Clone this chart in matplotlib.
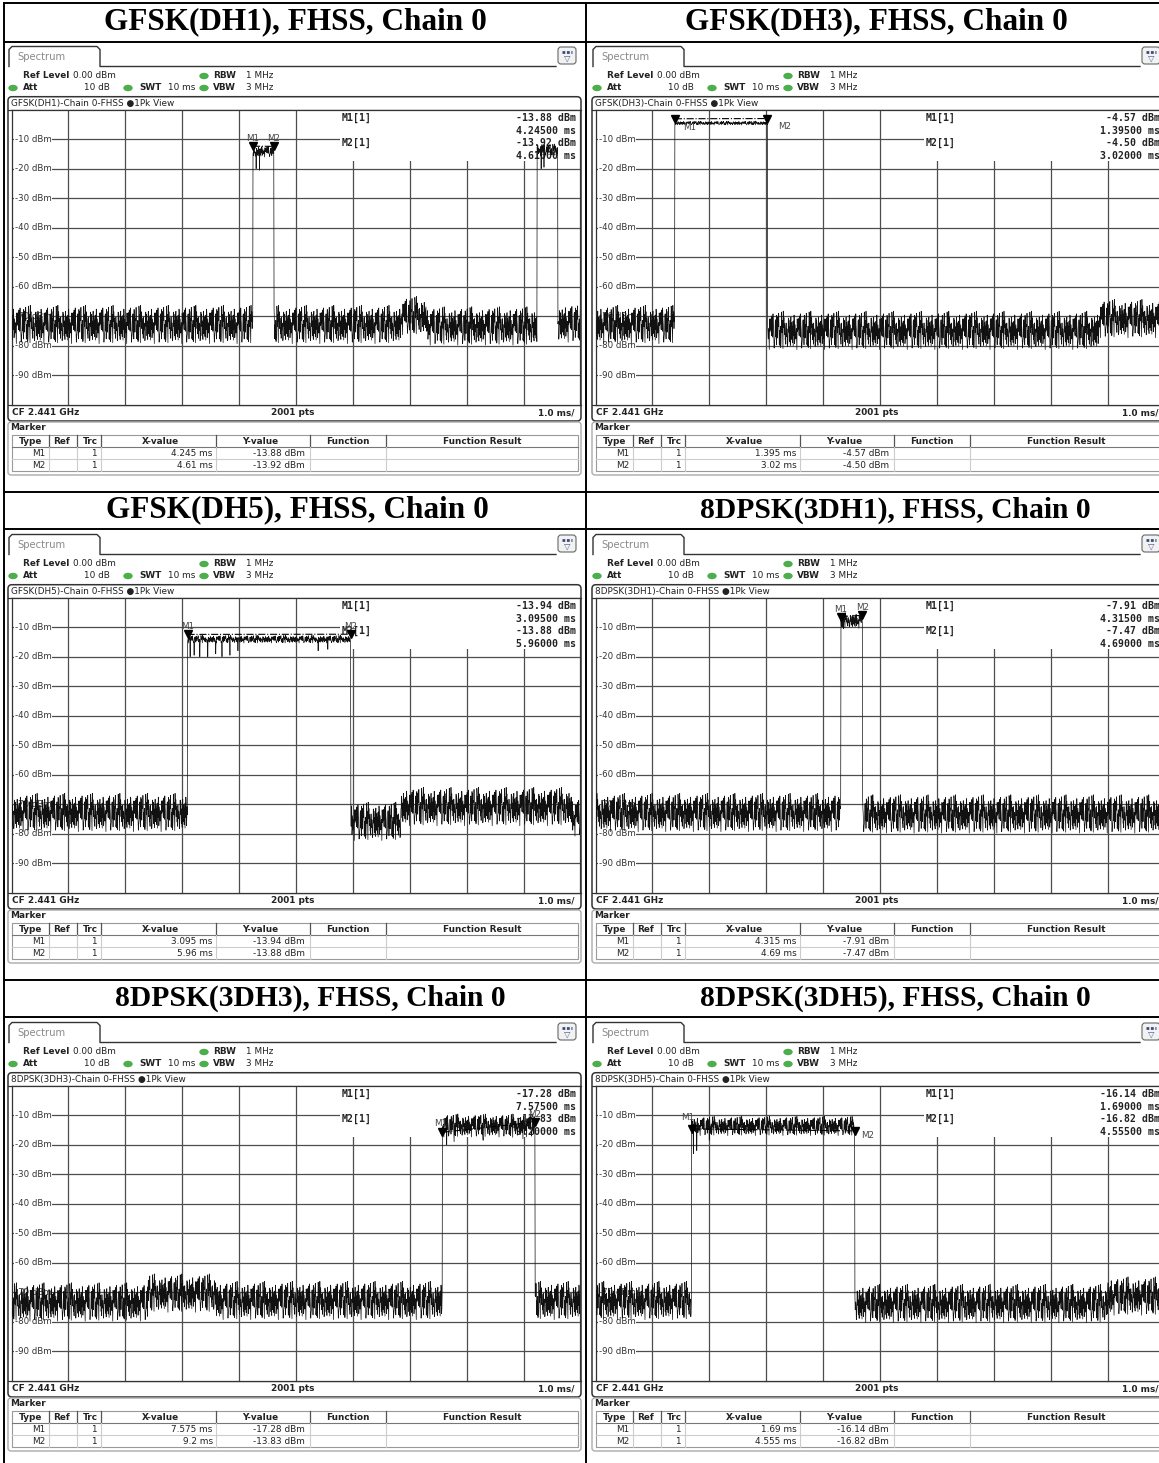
import numpy as np
import matplotlib.pyplot as plt
from matplotlib.patches import FancyBboxPatch, Rectangle, Ellipse

W, H = 1159, 1463

# Data ####################################################
titles = ["GFSK(DH1), FHSS, Chain 0", "GFSK(DH3), FHSS, Chain 0",
          "GFSK(DH5), FHSS, Chain 0", "8DPSK(3DH1), FHSS, Chain 0",
          "8DPSK(3DH3), FHSS, Chain 0", "8DPSK(3DH5), FHSS, Chain 0"]
headers = ["GFSK(DH1)-Chain 0-FHSS", "GFSK(DH3)-Chain 0-FHSS",
           "GFSK(DH5)-Chain 0-FHSS", "8DPSK(3DH1)-Chain 0-FHSS",
           "8DPSK(3DH3)-Chain 0-FHSS", "8DPSK(3DH5)-Chain 0-FHSS"]

m1_x = [4.245, 1.395, 3.095, 4.315, 7.575, 1.69]
m1_y = [-13.88, -4.57, -13.94, -7.91, -17.28, -16.14]
m2_x = [4.61, 3.02, 5.96, 4.69, 9.2, 4.555]
m2_y = [-13.92, -4.50, -13.88, -7.47, -13.83, -16.82]

# noise floor segments (start ms, stop ms, level dBm)
floors = [
    [(0, 4.245, -72.5), (4.61, 6.85, -72.5), (6.85, 7.3, -69.5), (7.3, 9.24, -73.0), (9.6, 10, -72.0)],
    [(0, 1.395, -72.5), (3.02, 8.85, -74.5), (8.85, 10, -70.5)],
    [(0, 3.095, -72.5), (5.96, 6.85, -75.5), (6.85, 9.85, -70.5), (9.85, 10, -74.0)],
    [(0, 4.315, -72.5), (4.69, 10, -73.0)],
    [(0, 2.4, -73.0), (2.4, 3.6, -70.0), (3.6, 7.575, -72.5), (9.2, 10, -72.5)],
    [(0, 1.69, -72.5), (4.555, 9.0, -73.5), (9.0, 10, -71.0)],
]
# bursts (start ms, stop ms, level dBm, ripple scale)
bursts = [
    [(4.245, 4.61, -14.0, 0.3), (9.24, 9.60, -13.5, 0.3)],
    [(1.395, 3.02, -4.5, 0.1)],
    [(3.095, 5.96, -14.0, 0.2)],
    [(4.315, 4.69, -7.6, 0.4)],
    [(7.575, 9.2, -13.3, 0.6)],
    [(1.69, 4.555, -13.5, 0.5)],
]
# single-sample dips inside the bursts (ms, dBm)
dips = [
    [(4.30, -20.0), (4.36, -20.5), (9.31, -20.0), (9.36, -19.5)],
    [],
    [(3.14, -20.0), (3.21, -19.5), (3.31, -20.0), (3.45, -20.0), (3.59, -19.0),
     (3.70, -20.0), (3.84, -19.5), (3.98, -18.0), (5.39, -18.0), (5.56, -17.5)],
    [(4.36, -10.5)],
    [(7.65, -20.0), (7.78, -19.0), (8.29, -18.5), (8.81, -17.5), (8.99, -18.0)],
    [(1.72, -23.0), (1.78, -22.0), (2.0, -18.5)],
]
# hand-typed trace ripple (dB)
ripple = [0.8, -3.1, 2.4, -5.2, 1.1, -1.7, 3.9, -4.4, 0.3, -2.6, 4.8, -6.1, 1.9, -0.9,
          2.7, -3.8, 5.3, -1.2, -4.9, 0.6, 3.2, -2.2, -6.8, 1.5, 4.1, -0.4, -3.5, 2.0,
          -5.6, 3.6, 0.1, -2.9, 5.9, -1.5, -4.1, 2.9, -0.7, -3.3, 1.3, 4.4, -5.0, 0.9,
          -2.0, 3.4, -6.3, 1.7, -1.1, 2.2, -3.9, 4.9, -0.2, -4.6, 1.0, 3.0, -2.4, -5.4,
          2.6, 0.4, -3.6, 5.5, -1.8, -0.6, 2.1, -4.8, 3.7, -2.7, 1.4, -6.5, 0.2, 4.2,
          -3.0, -1.3, 2.8, -5.1, 6.2, -0.8, -3.4, 1.6, -2.1, 3.3, -4.3, 0.7, -5.8, 2.3,
          -1.0, 4.6, -2.5, -0.3, 3.8, -4.7, 1.2, -3.2, 0.5, 2.5, -5.5, 4.0, -1.6]

y_levels = [-10, -20, -30, -40, -50, -60, -70, -80, -90]
col_sep = [49, 77, 101, 216, 310, 386]
col_names = ["Type", "Ref", "Trc", "X-value", "Y-value", "Function", "Function Result"]
col_ctr = [31, 62, 90, 160, 260, 348, 482]

# title layout (centre x in cell px, font size)
title_lay = [(295, 22.5), (292, 22.5), (297, 22.5), (311, 21.3), (310, 21.3), (311, 21.3)]

# label offsets in px (dx, dy up, ha) for M1 / M2
lab_pos = [
    ((0, 12, 'center'), (0, 12, 'center')),
    ((8, -4, 'left'), (11, -4, 'left')),
    ((0, 12, 'center'), (0, 12, 'center')),
    ((0, 12, 'center'), (0, 12, 'center')),
    ((-2, 13, 'center'), (0, 12, 'center')),
    ((-4, 16, 'center'), (6, 0, 'left')),
]
###########################################################

fig = plt.figure(figsize=(W / 100, H / 100), dpi=100)
cv = fig.add_axes([0, 0, 1, 1], zorder=0)
cv.set_xlim(0, W)
cv.set_ylim(H, 0)
cv.axis('off')

lk = dict(color='black', lw=1.4, solid_capstyle='butt')
cv.plot([3.5, 3.5], [2, H], **lk)
cv.plot([586, 586], [2, H], **lk)
for yy in [3, 41.5, 491.7, 529, 979.7, 1017]:
    cv.plot([2.5, W], [yy, yy], **lk)

FS = 6.4
DARK = '#333333'


def panel(k):
    col, row = k % 2, k // 2
    ox, oy = col * 584, row * 488

    def X(v):
        return v + ox

    def Y(v):
        return v + oy

    def info(x, y, s, bold=False, ha='left', color='#222222', size=FS):
        cv.text(X(x), Y(y), s, size=size, weight='bold' if bold else 'normal',
                ha=ha, va='center', color=color)

    tx, tsz = title_lay[k]
    cv.text(X(tx), Y(22), titles[k], family='Liberation Serif', weight='bold',
            size=tsz, ha='center', va='center')

    # tab + icon
    cv.plot([X(v) for v in [9, 9, 12, 97, 100, 100, 556]],
            [Y(v) for v in [66.5, 49.5, 46.5, 46.5, 49.5, 66.5, 66.5]], color=DARK, lw=1)
    info(17, 57, 'Spectrum', color='#8a8a8a', size=7.2)
    cv.add_patch(FancyBboxPatch((X(558), Y(47)), 18, 17, boxstyle='round,pad=0,rounding_size=3',
                                fc='#f2f2f2', ec='#666666', lw=0.8))
    cv.text(X(567), Y(58.5), '▽', size=6, color='#4a5a8a', ha='center', va='center')
    cv.plot([X(562), X(572)], [Y(51.5), Y(51.5)], color='#3a4a7a', lw=2, ls=(0, (1, 0.6)))

    # settings
    info(22.7, 76, 'Ref Level', True)
    info(72.7, 76, '0.00 dBm')
    info(213, 76, 'RBW', True)
    info(246, 76, '1 MHz')
    info(22.7, 88, 'Att', True)
    info(110, 88, '10 dB', ha='right')
    info(139, 88, 'SWT', True)
    info(168, 88, '10 ms')
    info(213, 88, 'VBW', True)
    info(246, 88, '3 MHz')
    for dx, dy in [(204, 76), (13, 88), (128, 88), (204, 88)]:
        cv.add_patch(Ellipse((X(dx), Y(dy)), 8, 5, color='#4cae4c'))

    # graph frame
    cv.add_patch(FancyBboxPatch((X(8), Y(96.7)), 573, 324.3, boxstyle='round,pad=0,rounding_size=4',
                                fc='white', ec=DARK, lw=1.1))
    info(11, 103.3, headers[k] + ' ●1Pk View')
    cv.plot([X(8), X(581)], [Y(110), Y(110)], color=DARK, lw=0.9)
    cv.plot([X(8), X(581)], [Y(405), Y(405)], color=DARK, lw=0.9)
    info(12, 412.5, 'CF 2.441 GHz', True)
    info(293, 412.5, '2001 pts', True, ha='center')
    info(574, 412.5, '1.0 ms/', True, ha='right')

    # marker table
    cv.add_patch(FancyBboxPatch((X(8), Y(422)), 573, 53, boxstyle='round,pad=0,rounding_size=3',
                                fc='white', ec='#aaaaaa', lw=1))
    info(10, 428, 'Marker', True)
    cv.add_patch(Rectangle((X(11.7), Y(435)), 566.5, 36, fc='none', ec='#999999', lw=0.8))
    cv.plot([X(11.7), X(578.2)], [Y(447), Y(447)], color='#777777', lw=0.8)
    cv.plot([X(11.7), X(578.2)], [Y(459), Y(459)], color='#cccccc', lw=0.8)
    for cx in col_sep:
        cv.plot([X(cx)] * 2, [Y(435), Y(447)], color='#555555', lw=0.9)
        cv.plot([X(cx)] * 2, [Y(447), Y(471)], color='#cccccc', lw=0.8)
    for h, cx in zip(col_names, col_ctr):
        info(cx, 441, h, True, ha='center')
    for i, (nm, mx, my) in enumerate([('M1', m1_x[k], m1_y[k]), ('M2', m2_x[k], m2_y[k])]):
        ry = 453 + 12.2 * i
        info(45, ry, nm, ha='right')
        info(97, ry, '1', ha='right')
        info(212.7, ry, f'{mx:g} ms', ha='right')
        info(305, ry, f'{my:.2f} dBm', ha='right')

    # plot area
    ax = fig.add_axes([X(11.5) / W, 1 - Y(404.7) / H, 568.9 / W, 295 / H], zorder=1)
    ax.set_xlim(0, 10)
    ax.set_ylim(-100, 0)
    ax.set_xticks([])
    ax.set_yticks([])
    for s in ax.spines.values():
        s.set_color(DARK)
        s.set_linewidth(0.9)
    for lv in y_levels:
        ax.axhline(lv, color='#4d4d4d', lw=0.9, zorder=1)
    for tv in range(1, 10):
        ax.axvline(tv, color='#4d4d4d', lw=0.9, zorder=1)
    for lv in y_levels:
        ax.text(X(15), Y(109.7 - lv * 2.95), f'{lv} dBm', transform=cv.transData, size=6.2,
                color='#333333', va='center', zorder=2,
                bbox=dict(fc='white', ec='none', pad=0.4))

    # marker readout
    ax.add_patch(Rectangle((X(340), Y(110)), 240, 51, transform=cv.transData,
                           fc='white', ec='none', zorder=2))
    mono = dict(family='DejaVu Sans Mono', weight='bold', size=7.1, va='center',
                color='#222222', transform=cv.transData, zorder=3)
    ax.text(X(341.7), Y(118.3), 'M1[1]', **mono)
    ax.text(X(341.7), Y(143.3), 'M2[1]', **mono)
    ax.text(X(576.5), Y(118.3), f'{m1_y[k]:.2f} dBm', ha='right', **mono)
    ax.text(X(576.5), Y(131), f'{m1_x[k]:.5f} ms', ha='right', **mono)
    ax.text(X(576.5), Y(143.3), f'{m2_y[k]:.2f} dBm', ha='right', **mono)
    ax.text(X(576.5), Y(155.7), f'{m2_x[k]:.5f} ms', ha='right', **mono)

    # trace
    t = np.linspace(0, 10, 2001)
    y = np.zeros_like(t)
    for a, b, lv in floors[k]:
        y[(t >= a) & (t <= b)] = lv
    rip = np.array(ripple)[(np.arange(t.size) * 7 + k * 13) % len(ripple)]
    y = y + rip
    for a, b, lv, sc in bursts[k]:
        m = (t >= a - 1e-9) & (t <= b + 1e-9)
        y[m] = lv + sc * rip[m]
    for tm, lv in dips[k]:
        y[np.argmin(np.abs(t - tm))] = lv
    ax.plot(t, y, color='#111111', lw=0.5, zorder=4)

    # markers
    mk = [(m1_x[k], m1_y[k], 'M1'), (m2_x[k], m2_y[k], 'M2')]
    for (mx, my, nm), (dx, dy, ha) in zip(mk, lab_pos[k]):
        ax.plot(mx, my + 1.5, marker='v', color='black', ms=5.5, zorder=5)
        ax.annotate(nm, (mx, my), xytext=(dx / 1.389, dy / 1.389), textcoords='offset points',
                    ha=ha, va='center', size=6.3, color='#444444', zorder=5)
    ax.plot([m1_x[k], m2_x[k]], [m1_y[k] + 1.5, m2_y[k] + 1.5], color='black', lw=0.8,
            ls='-.', zorder=5)


for k in range(6):
    panel(k)

fig.savefig('out.png', dpi=100)
